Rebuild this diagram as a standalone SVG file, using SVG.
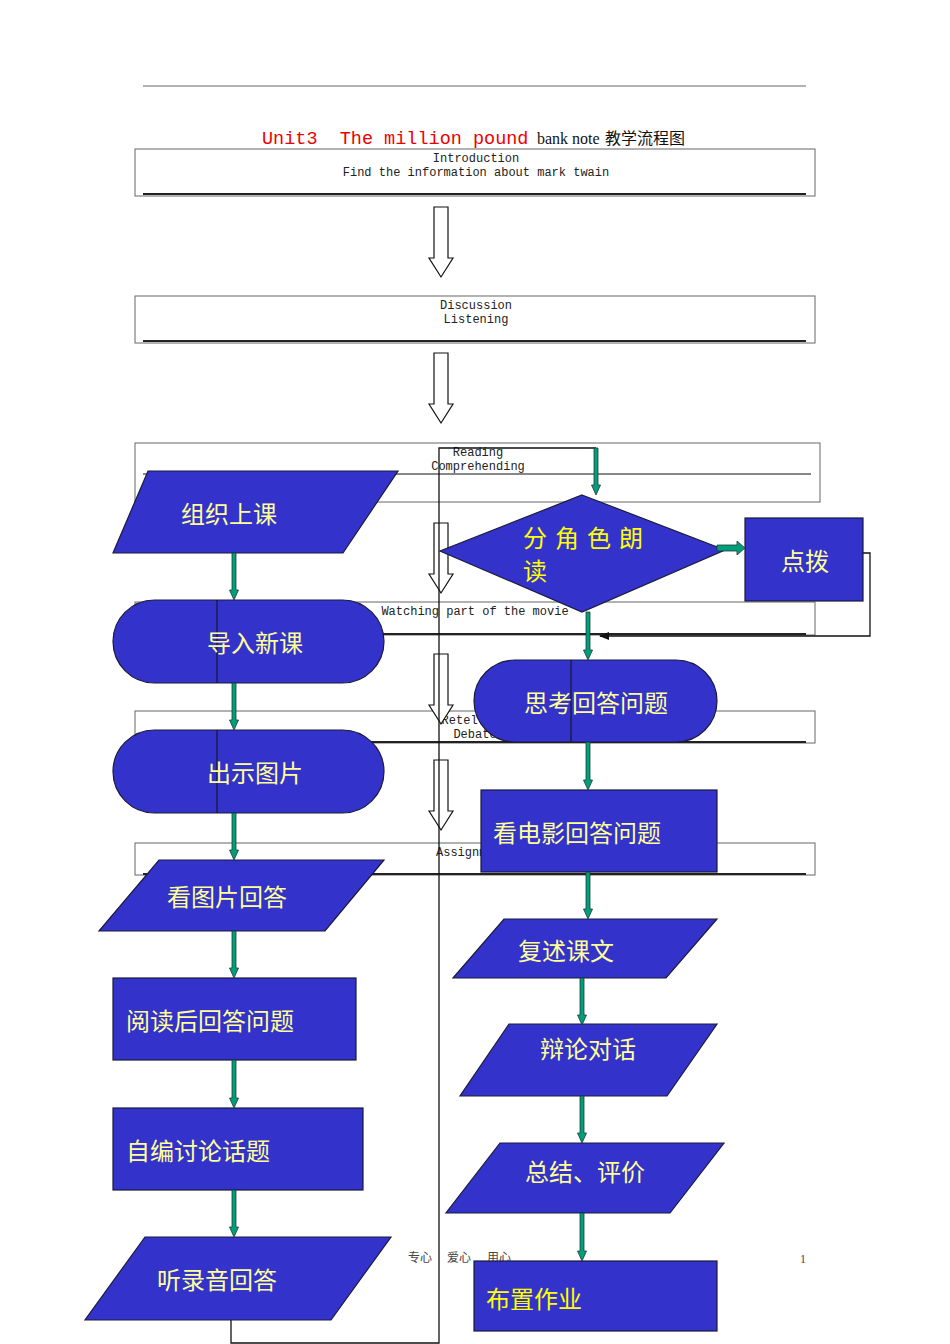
<svg xmlns="http://www.w3.org/2000/svg" width="950" height="1344" viewBox="0 0 950 1344">
<style>
.doc{fill:#fff;stroke:#666;stroke-width:1}
.dline{stroke:#222;stroke-width:2.2}
.thin{stroke:#111;stroke-width:1}
.mono{font-family:"Liberation Mono",monospace;font-size:12px;fill:#222;text-anchor:middle}
.hol{fill:#fff;stroke:#111;stroke-width:1.2}
.n{fill:#3333CC;stroke:#1a1a3a;stroke-width:1.2}
.t{font-family:"Noto Sans CJK SC","Liberation Sans",sans-serif;font-size:24px;fill:#FFFF99}
.tb{fill:#FFFF00}
.c{fill:none;stroke:#111;stroke-width:1.3}
.g{fill:#009E7A;stroke:#1f3a36;stroke-width:0.8}
.foot{font-family:"Liberation Serif","Noto Sans CJK SC",serif;font-size:12px;fill:#444}
</style>
<defs>
<marker id="ah" markerWidth="10" markerHeight="8" refX="9" refY="4" orient="auto" markerUnits="userSpaceOnUse">
<path d="M0,0 L10,4 L0,8 Z" fill="#111"/>
</marker>
</defs>
<rect width="950" height="1344" fill="#fff"/>
<g id="page">
<line x1="143" y1="86" x2="806" y2="86" stroke="#666" stroke-width="1"/>
<text y="144" xml:space="preserve"><tspan x="262" font-family="Liberation Mono,monospace" font-size="18.5" fill="#EE0000">Unit3  The million pound</tspan><tspan x="537" font-family="Liberation Serif,Noto Sans CJK SC,serif" font-size="16" fill="#111">bank note</tspan><tspan x="605" font-family="Liberation Serif,Noto Sans CJK SC,serif" font-size="16" fill="#111">教学流程图</tspan></text>
<rect class="doc" x="135" y="149" width="680" height="47"/>
<line class="dline" x1="143" y1="194" x2="806" y2="194"/>
<text class="mono" x="476" y="162">Introduction</text>
<text class="mono" x="476" y="176">Find the information about mark twain</text>
<rect class="doc" x="135" y="296" width="680" height="47"/>
<line class="dline" x1="143" y1="341" x2="806" y2="341"/>
<text class="mono" x="476" y="309">Discussion</text>
<text class="mono" x="476" y="323">Listening</text>
<rect class="doc" x="135" y="443" width="685" height="59"/>
<line class="thin" x1="143" y1="474" x2="811" y2="474"/>
<text class="mono" x="478" y="456">Reading</text>
<text class="mono" x="478" y="470">Comprehending</text>
<rect class="doc" x="135" y="602" width="680" height="33"/>
<line class="dline" x1="143" y1="634" x2="806" y2="634"/>
<text class="mono" x="475" y="615">Watching part of the movie</text>
<rect class="doc" x="135" y="711" width="680" height="32"/>
<line class="dline" x1="143" y1="742" x2="806" y2="742"/>
<text class="mono" x="474" y="724">Retelling</text>
<text class="mono" x="475" y="738">Debate</text>
<rect class="doc" x="135" y="843" width="680" height="32"/>
<line class="dline" x1="143" y1="874" x2="806" y2="874"/>
<text class="mono" x="472" y="856">Assignment</text>
<path class="hol" d="M434,207 H448 V258 H453 L441,277 L429,258 H434 Z"/>
<path class="hol" d="M434,353 H448 V404 H453 L441,423 L429,404 H434 Z"/>
<path class="hol" d="M434,523 H448 V574 H453 L441,593 L429,574 H434 Z"/>
<path class="hol" d="M434,654 H448 V705 H453 L441,724 L429,705 H434 Z"/>
<path class="hol" d="M434,760 H448 V811 H453 L441,830 L429,811 H434 Z"/>
<text class="foot" x="408" y="1262">专心</text>
<text class="foot" x="447" y="1262">爱心</text>
<text class="foot" x="487" y="1262">用心</text>
<text class="foot" x="800" y="1263">1</text>
</g>
<g id="connectors">
<path class="c" d="M231,1320 V1343 H439 V448 H596"/>
<path class="c" d="M863,553 H870 V636 H600" marker-end="url(#ah)"/>
</g>
<g id="n1"><polygon class="n" points="148,471 398,471 343,553 113,553"/><text class="t" x="181" y="523">组织上课</text></g>
<g id="n2"><rect class="n" x="113" y="600" width="271" height="83" rx="41.5"/><line class="thin" x1="217" y1="600" x2="217" y2="683"/><text class="t" x="255" y="652" text-anchor="middle">导入新课</text></g>
<g id="n3"><rect class="n" x="113" y="730" width="271" height="83" rx="41.5"/><line class="thin" x1="217" y1="730" x2="217" y2="813"/><text class="t" x="255" y="782" text-anchor="middle">出示图片</text></g>
<g id="n4"><polygon class="n" points="159,860 384,860 325,931 99,931"/><text class="t" x="167" y="906">看图片回答</text></g>
<g id="n5"><rect class="n" x="113" y="978" width="243" height="82"/><text class="t" x="126" y="1030">阅读后回答问题</text></g>
<g id="n6"><rect class="n" x="113" y="1108" width="250" height="82"/><text class="t" x="126" y="1160">自编讨论话题</text></g>
<g id="n7"><polygon class="n" points="145,1237 391,1237 331,1320 85,1320"/><text class="t" x="157" y="1289">听录音回答</text></g>
<g id="n8"><polygon class="n" points="582,495 725,550 582,612 440,551"/>
<text class="t tb" font-size="20"><tspan x="523" y="547">分</tspan><tspan x="555" y="547">角</tspan><tspan x="587" y="547">色</tspan><tspan x="619" y="547">朗</tspan><tspan x="523" y="580">读</tspan></text></g>
<g id="n9"><rect class="n" x="745" y="518" width="118" height="83"/><text class="t" x="805" y="570" text-anchor="middle">点拨</text></g>
<g id="n10"><rect class="n" x="474" y="660" width="243" height="82" rx="41"/><line class="thin" x1="571" y1="660" x2="571" y2="742"/><text class="t" x="596" y="712" text-anchor="middle">思考回答问题</text></g>
<g id="n11"><rect class="n" x="481" y="790" width="236" height="82"/><text class="t" x="493" y="842">看电影回答问题</text></g>
<g id="n12"><polygon class="n" points="504,919 717,919 666,978 453,978"/><text class="t" x="518" y="960">复述课文</text></g>
<g id="n13"><polygon class="n" points="509,1024 717,1024 667,1096 460,1096"/><text class="t" x="540" y="1058">辩论对话</text></g>
<g id="n14"><polygon class="n" points="500,1143 724,1143 670,1213 446,1213"/><text class="t" x="525" y="1181">总结、评价</text></g>
<g id="n15"><rect class="n" x="474" y="1261" width="243" height="70"/><text class="t tb" x="486" y="1308">布置作业</text></g>
<g id="arrows">
<polygon class="g" points="717,545 737,545 737,541 745,548 737,555 737,551 717,551"/>
<polygon class="g" points="232,553 236,553 236,590 238.5,590 234,600 229.5,590 232,590"/>
<polygon class="g" points="232,683 236,683 236,720 238.5,720 234,730 229.5,720 232,720"/>
<polygon class="g" points="232,813 236,813 236,850 238.5,850 234,860 229.5,850 232,850"/>
<polygon class="g" points="232,931 236,931 236,968 238.5,968 234,978 229.5,968 232,968"/>
<polygon class="g" points="232,1060 236,1060 236,1098 238.5,1098 234,1108 229.5,1098 232,1098"/>
<polygon class="g" points="232,1190 236,1190 236,1227 238.5,1227 234,1237 229.5,1227 232,1227"/>
<polygon class="g" points="594,448 598,448 598,485 600.5,485 596,495 591.5,485 594,485"/>
<polygon class="g" points="586,612 590,612 590,650 592.5,650 588,660 583.5,650 586,650"/>
<polygon class="g" points="586,742 590,742 590,780 592.5,780 588,790 583.5,780 586,780"/>
<polygon class="g" points="586,872 590,872 590,909 592.5,909 588,919 583.5,909 586,909"/>
<polygon class="g" points="580,978 584,978 584,1015 586.5,1015 582,1025 577.5,1015 580,1015"/>
<polygon class="g" points="580,1096 584,1096 584,1133 586.5,1133 582,1143 577.5,1133 580,1133"/>
<polygon class="g" points="580,1213 584,1213 584,1251 586.5,1251 582,1261 577.5,1251 580,1251"/>
</g>
</svg>
